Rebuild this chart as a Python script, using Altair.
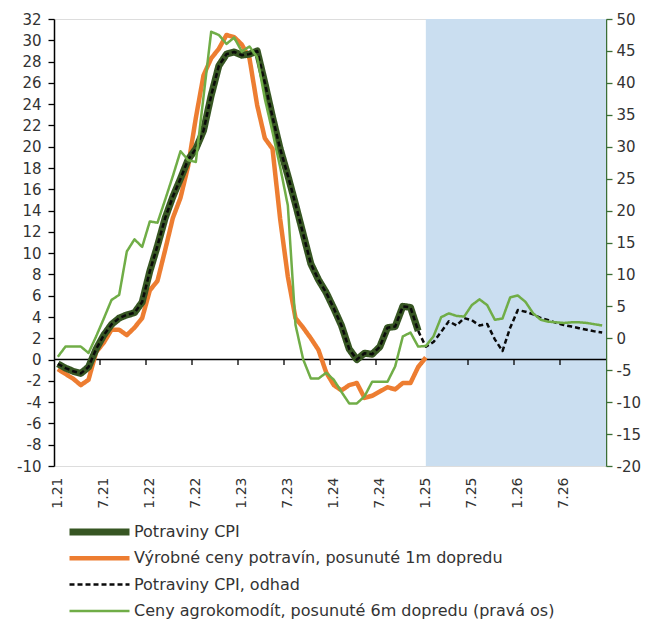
import altair as alt
import pandas as pd

# ---------------- data ----------------
months = [f"{m}.{y}" for y in range(21, 27) for m in range(1, 13)]
tick_labels = months[::6]
forecast_start = months.index("1.25")

# Potraviny CPI (actual, 1.21 - 12.24), % y/y, left axis
cpi = [-0.4, -0.8, -1.1, -1.3, -0.7, 1.0, 2.3, 3.3, 3.9, 4.2, 4.4, 5.4,
       8.3, 10.7, 13.3, 15.3, 17.0, 18.8, 19.8, 21.5, 24.8, 27.6, 28.7, 28.9,
       28.6, 28.7, 29.0, 26.0, 22.8, 19.8, 17.3, 14.6, 11.8, 9.0, 7.5, 6.3,
       4.8, 3.2, 1.0, 0.0, 0.6, 0.5, 1.2, 3.0, 3.1, 5.0, 4.9, 2.7]
# Potraviny CPI, odhad (forecast 1.25 - 12.26)
cpi_fc = [1.2, 1.65, 2.6, 3.6, 3.2, 3.9, 3.7, 3.2, 3.35, 1.9, 0.8, 3.0,
          4.65, 4.5, 4.25, 3.9, 3.7, 3.45, 3.25, 3.1, 2.95, 2.8, 2.65, 2.55]
# Výrobné ceny potravín, posunuté 1m dopredu (1.21 - 1.25), left axis
ppi = [-0.9, -1.35, -1.8, -2.4, -1.9, 0.7, 1.6, 2.8, 2.8, 2.3, 3.0, 3.9,
       6.5, 7.4, 10.3, 13.3, 15.2, 18.2, 22.7, 26.7, 28.3, 29.2, 30.5, 30.3,
       29.6, 28.3, 23.9, 20.8, 19.8, 13.2, 7.8, 3.9, 3.0, 2.0, 0.9, -1.2,
       -2.4, -2.9, -2.4, -2.2, -3.6, -3.4, -3.0, -2.6, -2.8, -2.2, -2.2, -0.7,
       0.2]
# Ceny agrokomodít, posunuté 6m dopredu (right axis)
agro = [-2.9, -1.3, -1.3, -1.3, -2.3, 0.3, 3.1, 6.0, 6.8, 13.6, 15.5, 14.3,
        18.3, 18.1, 21.7, 25.4, 29.3, 27.9, 27.6, 37.8, 48.0, 47.5, 46.1, 47.1,
        44.9, 45.7, 44.0, 37.5, 32.3, 26.8, 20.8, 2.1, -3.3, -6.3, -6.3, -5.4,
        -6.5, -8.4, -10.2, -10.2, -9.1, -6.8, -6.8, -6.8, -4.4, 0.3, 0.9, -1.3,
        -1.2, 0.3, 3.3, 3.9, 3.5, 3.4, 5.2, 6.1, 5.2, 2.9, 3.1, 6.4,
        6.7, 5.7, 3.9, 2.9, 2.6, 2.5, 2.4, 2.5, 2.5, 2.4, 2.2, 2.0]

S_CPI = "Potraviny CPI"
S_PPI = "Výrobné ceny potravín, posunuté 1m dopredu"
S_EST = "Potraviny CPI, odhad"
S_AGRO = "Ceny agrokomodít, posunuté 6m dopredu (pravá os)"
series = [S_CPI, S_PPI, S_EST, S_AGRO]
colors = ["#375623", "#ed7d31", "#0a0a0a", "#70ad47"]
widths = [7, 4.5, 2.5, 2.5]
dashes = [[1, 0], [1, 0], [5, 3], [1, 0]]

left_ticks = list(range(-10, 33, 2))
right_ticks = list(range(-20, 51, 5))
n_months = len(months)


def frame(name, values, start=0):
    return pd.DataFrame({
        "pos": [start + k + 0.5 for k in range(len(values))],
        "value": values,
        "series": name,
        "month": months[start:start + len(values)],
    })


df_cpi = frame(S_CPI, cpi)
df_ppi = frame(S_PPI, ppi)
df_est = frame(S_EST, cpi + cpi_fc)
df_agro = frame(S_AGRO, agro)

df_shade = pd.DataFrame({"x0": [forecast_start + 0.5], "x1": [n_months],
                         "y0": [left_ticks[0]], "y1": [left_ticks[-1]]})
df_zero = pd.DataFrame({"x0": [0], "x1": [n_months], "y0": [0]})
df_xt = pd.DataFrame({"x0": list(range(6, n_months, 6))})
df_xt["y0"] = 0
df_xt["y1"] = -0.5

FONT = "DejaVu Sans"
TXT = "#333333"

# ---------------- encodings ----------------
x_scale = alt.Scale(domain=[0, n_months], nice=False, zero=False)
label_expr = "[" + ",".join(f"'{t}'" for t in tick_labels) + "][floor(datum.value / 6)]"
x_axis = alt.Axis(values=[k * 6 + 0.5 for k in range(len(tick_labels))],
                  labelExpr=label_expr, labelAngle=-90, labelAlign="right",
                  labelBaseline="middle", domain=False, ticks=False, grid=False,
                  labelPadding=11, labelFontSize=14, labelColor=TXT,
                  labelFont=FONT, title=None, labelOverlap=False)


def X(field):
    return alt.X(field, scale=x_scale, axis=x_axis)


yl_scale = alt.Scale(domain=[left_ticks[0], left_ticks[-1]], nice=False, zero=False)
yl_axis = alt.Axis(values=left_ticks, labelExpr="datum.value + ''", grid=False,
                   domainColor="#000000", domainWidth=1.5, tickColor="#000000",
                   tickWidth=1.3, tickSize=6, labelPadding=7, labelFontSize=15,
                   labelColor=TXT, labelFont=FONT, title=None)


def YL(field):
    return alt.Y(field, scale=yl_scale, axis=yl_axis)


yr = alt.Y("value:Q",
           scale=alt.Scale(domain=[right_ticks[0], right_ticks[-1]], nice=False, zero=False),
           axis=alt.Axis(orient="right", values=right_ticks, labelExpr="datum.value + ''",
                         grid=False, domainColor="#3b6e35", domainWidth=1.5,
                         tickColor="#3b6e35", tickWidth=1.3, tickSize=6,
                         labelPadding=4, labelFontSize=15, labelColor=TXT,
                         labelFont=FONT, title=None))

legend = alt.Legend(title=None, orient="none", legendX=12, legendY=505,
                    symbolType="stroke", symbolSize=3600, clipHeight=16,
                    rowPadding=10.3, labelFontSize=16, labelFont=FONT,
                    labelColor=TXT, labelOffset=1, padding=0, labelLimit=0)

color = alt.Color("series:N", scale=alt.Scale(domain=series, range=colors), legend=legend)
swidth = alt.StrokeWidth("series:N",
                         scale=alt.Scale(type="ordinal", domain=series, range=widths),
                         legend=legend)
sdash = alt.StrokeDash("series:N", scale=alt.Scale(domain=series, range=dashes), legend=legend)

# ---------------- layers ----------------
shade = alt.Chart(df_shade).mark_rect(color="#cadef0").encode(
    x=X("x0:Q"), x2="x1:Q", y=YL("y0:Q"), y2="y1:Q")
zero = alt.Chart(df_zero).mark_rule(color="#000000", strokeWidth=1.5).encode(
    x=X("x0:Q"), x2="x1:Q", y=YL("y0:Q"))
xticks = alt.Chart(df_xt).mark_rule(color="#000000", strokeWidth=1.3).encode(
    x=X("x0:Q"), y=YL("y0:Q"), y2="y1:Q")


def line(df):
    return alt.Chart(df).mark_line(strokeJoin="round", strokeCap="butt").encode(
        x=X("pos:Q"), y=YL("value:Q"), color=color, strokeWidth=swidth,
        strokeDash=sdash, tooltip=["month", "value"])


left = alt.layer(shade, zero, xticks, line(df_ppi), line(df_cpi), line(df_est))
right = alt.Chart(df_agro).mark_line(strokeJoin="round").encode(
    x=X("pos:Q"), y=yr, color=color, strokeWidth=swidth, strokeDash=sdash,
    tooltip=["month", "value"])

chart = alt.layer(left, right).resolve_scale(y="independent").properties(
    width=552, height=447,
    autosize=alt.AutoSizeParams(type="none"),
    padding={"left": 46, "right": 42, "top": 11, "bottom": 155},
).configure_view(stroke=None).configure(font=FONT, background="#ffffff")

chart.save("out.html", embed_options={"renderer": "svg", "actions": False})
